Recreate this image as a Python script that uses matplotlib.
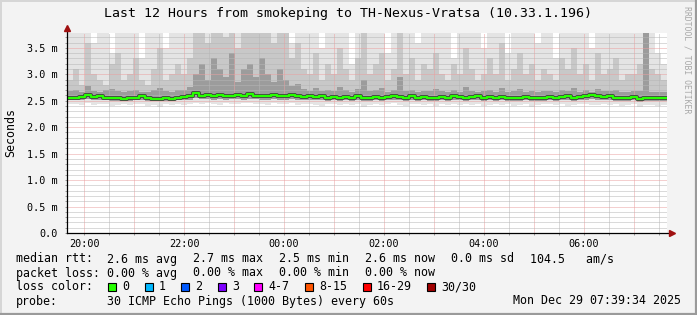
import matplotlib
matplotlib.use("Agg")
import matplotlib.pyplot as plt
import matplotlib.dates as mdates
from matplotlib.ticker import MultipleLocator, FuncFormatter
from matplotlib.patches import Rectangle
from matplotlib.lines import Line2D
import numpy as np
import pandas as pd

# time base: 100 steps of 7.2 min, 19:39:34 -> 07:39:34
start = "2025-12-28 19:39:34"
step = "432s"

# median rtt (ms)
med = [2.56, 2.56, 2.57, 2.61, 2.57, 2.58, 2.56, 2.55, 2.55, 2.54,
       2.55, 2.56, 2.58, 2.55, 2.54, 2.54, 2.55, 2.54, 2.56, 2.57,
       2.58, 2.65, 2.59, 2.60, 2.59, 2.60, 2.58, 2.59, 2.60, 2.59,
       2.62, 2.59, 2.58, 2.59, 2.60, 2.58, 2.59, 2.61, 2.58, 2.57,
       2.58, 2.57, 2.58, 2.56, 2.57, 2.56, 2.57, 2.56, 2.58, 2.56,
       2.55, 2.57, 2.56, 2.57, 2.59, 2.57, 2.56, 2.58, 2.56, 2.57,
       2.56, 2.55, 2.57, 2.56, 2.58, 2.57, 2.56, 2.57, 2.58, 2.56,
       2.57, 2.56, 2.57, 2.56, 2.55, 2.56, 2.57, 2.56, 2.55, 2.56,
       2.57, 2.56, 2.57, 2.58, 2.56, 2.57, 2.58, 2.60, 2.58, 2.57,
       2.59, 2.56, 2.55, 2.56, 2.57, 2.54, 2.55, 2.56, 2.55, 2.56]

# smoke envelopes (ms): highest pings
up1 = [4, 4, 4, 4, 3.6, 4, 4, 3.4, 4, 4,
       4, 4, 3.3, 4, 4, 4, 3.5, 4, 4, 4,
       4, 4, 4, 4, 4, 4, 4, 4, 4, 4,
       4, 4, 4, 4, 4, 4, 4, 3.6, 4, 4,
       4, 4, 3.5, 4, 4, 4, 4, 3.2, 4, 4,
       4, 4, 4, 3.4, 4, 4, 4, 4, 3.6, 4,
       4, 4, 4, 4, 3.3, 4, 4, 4, 4, 3.5,
       4, 4, 4, 3.4, 4, 4, 4, 4, 3.6, 4,
       4, 3.3, 4, 4, 4, 4, 4, 3.5, 4, 4,
       4, 4, 4, 4, 4, 4, 4, 4, 3.4, 3.2]
up2 = [2.9, 3.1, 2.8, 3.6, 3.0, 2.9, 2.8, 3.2, 3.4, 2.9,
       3.0, 3.3, 2.9, 2.8, 3.1, 3.5, 2.9, 3.0, 3.2, 3.0,
       3.3, 3.8, 4, 3.6, 4, 4, 3.7, 4, 3.5, 4,
       4, 3.8, 4, 4, 3.6, 4, 3.8, 3.3, 3.6, 3.1,
       3.0, 3.4, 2.9, 3.2, 3.0, 3.5, 3.1, 2.9, 3.3, 4,
       3.0, 3.2, 3.4, 2.9, 3.1, 4, 3.0, 3.3, 2.9, 3.2,
       3.1, 3.4, 3.0, 2.9, 3.2, 3.0, 3.5, 3.1, 2.9, 3.0,
       3.3, 3.0, 3.6, 2.9, 3.1, 3.4, 3.0, 3.2, 2.9, 3.1,
       3.0, 2.9, 3.3, 3.1, 3.5, 3.0, 3.2, 2.9, 3.4, 3.0,
       3.1, 3.3, 2.9, 3.0, 3.0, 3.2, 4, 3.1, 3.0, 2.9]
up3 = [2.68, 2.70, 2.67, 2.78, 2.68, 2.67, 2.70, 2.72, 2.68, 2.66,
       2.69, 2.71, 2.67, 2.66, 2.70, 2.74, 2.68, 2.67, 2.71, 2.70,
       2.76, 3.0, 3.2, 2.9, 3.3, 3.1, 2.95, 3.4, 2.85, 3.1,
       3.2, 2.95, 3.3, 3.0, 2.85, 3.1, 2.9, 2.78, 2.82, 2.72,
       2.69, 2.74, 2.68, 2.71, 2.68, 2.76, 2.70, 2.67, 2.72, 2.9,
       2.69, 2.71, 2.74, 2.67, 2.70, 2.95, 2.68, 2.71, 2.67, 2.69,
       2.68, 2.72, 2.68, 2.66, 2.70, 2.67, 2.76, 2.69, 2.66, 2.68,
       2.71, 2.67, 2.74, 2.66, 2.68, 2.72, 2.67, 2.69, 2.66, 2.68,
       2.68, 2.66, 2.71, 2.68, 2.74, 2.67, 2.70, 2.67, 2.72, 2.68,
       2.69, 2.71, 2.66, 2.67, 2.69, 2.69, 3.8, 2.67, 2.66, 2.66]
# lowest pings
lo2 = [2.51, 2.51, 2.52, 2.53, 2.52, 2.52, 2.51, 2.50, 2.50, 2.50,
       2.50, 2.51, 2.52, 2.50, 2.49, 2.50, 2.50, 2.49, 2.51, 2.52,
       2.52, 2.55, 2.53, 2.53, 2.52, 2.53, 2.52, 2.53, 2.53, 2.52,
       2.54, 2.53, 2.52, 2.52, 2.53, 2.52, 2.52, 2.53, 2.52, 2.51,
       2.52, 2.51, 2.52, 2.50, 2.51, 2.50, 2.51, 2.50, 2.51, 2.50,
       2.50, 2.51, 2.50, 2.51, 2.52, 2.51, 2.50, 2.51, 2.50, 2.51,
       2.50, 2.49, 2.51, 2.50, 2.51, 2.51, 2.50, 2.51, 2.51, 2.50,
       2.51, 2.50, 2.51, 2.50, 2.49, 2.50, 2.51, 2.50, 2.49, 2.50,
       2.51, 2.50, 2.51, 2.51, 2.50, 2.51, 2.52, 2.53, 2.52, 2.51,
       2.52, 2.50, 2.49, 2.50, 2.51, 2.48, 2.49, 2.50, 2.49, 2.50]
lo1 = [2.43, 2.44, 2.42, 2.45, 2.41, 2.43, 2.44, 2.40, 2.42, 2.43,
       2.41, 2.44, 2.43, 2.40, 2.42, 2.38, 2.43, 2.41, 2.44, 2.42,
       2.44, 2.45, 2.43, 2.46, 2.44, 2.42, 2.45, 2.43, 2.44, 2.45,
       2.46, 2.43, 2.44, 2.42, 2.45, 2.44, 2.43, 2.45, 2.41, 2.43,
       2.44, 2.42, 2.40, 2.43, 2.44, 2.41, 2.43, 2.42, 2.44, 2.39,
       2.42, 2.44, 2.41, 2.43, 2.45, 2.42, 2.40, 2.43, 2.44, 2.42,
       2.43, 2.40, 2.44, 2.42, 2.43, 2.41, 2.44, 2.42, 2.43, 2.40,
       2.42, 2.43, 2.41, 2.44, 2.40, 2.42, 2.43, 2.38, 2.42, 2.43,
       2.44, 2.42, 2.43, 2.40, 2.42, 2.44, 2.43, 2.42, 2.41, 2.43,
       2.42, 2.44, 2.40, 2.42, 2.43, 2.39, 2.41, 2.42, 2.40, 2.41]

title = "Last 12 Hours from smokeping to TH-Nexus-Vratsa (10.33.1.196)"
rtt_items = ["2.6 ms avg", "2.7 ms max", "2.5 ms min", "2.6 ms now", "0.0 ms sd", "104.5   am/s"]
loss_items = ["0.00 % avg", "0.00 % max", "0.00 % min", "0.00 % now"]
loss_labels = ["0", "1", "2", "3", "4-7", "8-15", "16-29", "30/30"]
loss_colors = ["#26ff00", "#00b8ff", "#0059ff", "#7e00ff", "#ff00ff", "#ff5500", "#ff0000", "#a00000"]
probe_text = "30 ICMP Echo Pings (1000 Bytes) every 60s"
stamp = "Mon Dec 29 07:39:34 2025"

W, H = 697, 315
plt.rcParams['font.family'] = "DejaVu Sans Mono"


def fx(x):
    return x / W


def fy(y):
    return 1 - y / H


fig = plt.figure(figsize=(W / 100, H / 100), dpi=100, facecolor="#f3f3f3")
ax = fig.add_axes([fx(67), fy(233), 600 / W, 200 / H])
ax.set_facecolor("white")

t = pd.date_range(start, periods=len(med) + 1, freq=step)


def ext(a):
    return np.append(np.array(a, dtype=float), a[-1])


# smoke layers, outermost first
ax.fill_between(t, ext(lo1), ext(up1), step="post", color="#e4e4e4", lw=0, zorder=1)
ax.fill_between(t, ext(lo2), ext(up2), step="post", color="#c8c8c8", lw=0, zorder=1.1)
ax.fill_between(t, ext(lo2), ext(up3), step="post", color="#9c9c9c", lw=0, zorder=1.2)

ax.set_xlim(t[0], t[-1])
ax.set_ylim(0, 3.78)

# grid (drawn over the smoke like rrdtool does)
ax.xaxis.set_major_locator(mdates.HourLocator())
ax.xaxis.set_minor_locator(mdates.MinuteLocator(byminute=[30]))
ax.xaxis.set_major_formatter(FuncFormatter(
    lambda v, p: mdates.num2date(v).strftime("%H:%M") if mdates.num2date(v).hour % 2 == 0 else ""))
ax.yaxis.set_major_locator(MultipleLocator(0.5))
ax.yaxis.set_minor_locator(MultipleLocator(0.1))
ax.yaxis.set_major_formatter(FuncFormatter(lambda v, p: "0.0" if v == 0 else f"{v:.1f} m"))

ax.grid(True, which="minor", color="#b6b6b6", lw=0.72, ls=(0, (1, 1)))
ax.grid(True, which="major", color="#eaa0a0", lw=0.72, ls=(0, (1, 1)))
ax.set_axisbelow(False)
for axis in (ax.xaxis, ax.yaxis):
    for tk in axis.get_major_ticks() + axis.get_minor_ticks():
        tk.gridline.set_zorder(2)

# median line
ax.step(t, ext(med), where="post", color="#404040", lw=2.8, zorder=3)
ax.step(t, ext(med), where="post", color="#26ff00", lw=1.6, zorder=3.1)

ax.tick_params(axis="both", which="both", length=1.5, width=0.7, color="#999999",
               labelsize=7.3, pad=2.5)
ax.tick_params(axis="y", which="major", pad=5)
for s in ax.spines.values():
    s.set_visible(False)

# axes with arrows
ax.add_line(Line2D([0, 0], [0, 1.02], transform=ax.transAxes, color="black", lw=0.9, clip_on=False, zorder=4))
ax.add_line(Line2D([0, 1.008], [0, 0], transform=ax.transAxes, color="black", lw=0.9, clip_on=False, zorder=4))
ax.plot([0], [1.025], marker="^", ms=4.5, color="#a01010", transform=ax.transAxes, clip_on=False, zorder=5)
ax.plot([1.009], [0], marker=">", ms=4.5, color="#a01010", transform=ax.transAxes, clip_on=False, zorder=5)

# titles
fig.text(fx(348), fy(13), title, ha="center", va="center", fontsize=9.5)
fig.text(fx(11), fy(132), "Seconds", rotation=90, ha="center", va="center", fontsize=8.4)
fig.text(fx(687), fy(6), "RRDTOOL / TOBI OETIKER", rotation=270, ha="center", va="top",
         fontsize=5.9, color="#a8a8a8")

# legend rows
fs = 8.4
fig.text(fx(16), fy(259), "median rtt:", va="center", fontsize=fs)
for i, s in enumerate(rtt_items):
    x = 107 + 86 * i if i < 5 else 530
    fig.text(fx(x), fy(259), s, va="center", fontsize=fs)
fig.text(fx(16), fy(273), "packet loss:", va="center", fontsize=fs)
for i, s in enumerate(loss_items):
    fig.text(fx(107 + 86 * i), fy(273), s, va="center", fontsize=fs)
fig.text(fx(16), fy(287), "loss color:", va="center", fontsize=fs)
bx = 108
for lab, col in zip(loss_labels, loss_colors):
    fig.patches.append(Rectangle((fx(bx), fy(291)), 8 / W, 8 / H, transform=fig.transFigure,
                                 facecolor=col, edgecolor="black", lw=0.8))
    fig.text(fx(bx + 14), fy(287), lab, va="center", fontsize=fs)
    bx += 29.6 + 7 * len(lab)
fig.text(fx(16), fy(301), "probe:", va="center", fontsize=fs)
fig.text(fx(107), fy(301), probe_text, va="center", fontsize=fs)
fig.text(fx(681), fy(301), stamp, ha="right", va="center", fontsize=fs)

# 3d frame
fig.add_artist(Line2D([0, 1], [fy(0.5), fy(0.5)], transform=fig.transFigure, color="#d6d6d6", lw=1.4))
fig.add_artist(Line2D([fx(0.5), fx(0.5)], [0, 1], transform=fig.transFigure, color="#d6d6d6", lw=1.4))
fig.add_artist(Line2D([0, 1], [fy(314), fy(314)], transform=fig.transFigure, color="#9a9a9a", lw=1.6))
fig.add_artist(Line2D([fx(696), fx(696)], [0, 1], transform=fig.transFigure, color="#9a9a9a", lw=1.6))

fig.savefig("out.png", dpi=100, facecolor=fig.get_facecolor())
